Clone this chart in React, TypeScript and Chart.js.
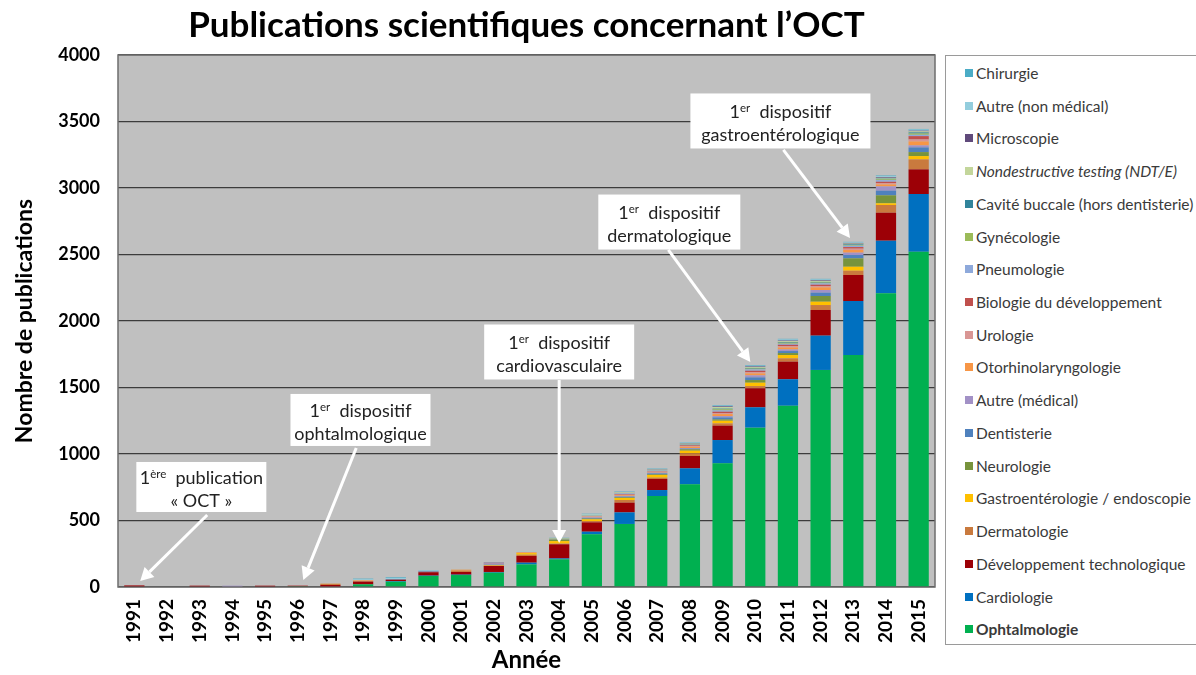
import React, { useEffect, useRef } from "react";
import { Chart, registerables } from "chart.js";
Chart.register(...registerables);

const chartTitle = "Publications scientifiques concernant l\u2019OCT";
const yAxisTitle = "Nombre de publications";
const xAxisTitle = "Année";

const years = [
  "1991", "1992", "1993", "1994", "1995", "1996", "1997", "1998", "1999", "2000",
  "2001", "2002", "2003", "2004", "2005", "2006", "2007", "2008", "2009", "2010",
  "2011", "2012", "2013", "2014", "2015",
];

// Series values, stacking order bottom -> top
const ophtalmologie = [0, 0, 0, 0, 0, 6, 5, 20, 40, 83, 90, 108, 170, 208, 396, 474, 684, 772, 930, 1198, 1363, 1632, 1744, 2208, 2520];
const cardiologie = [0, 0, 0, 0, 0, 0, 0, 0, 5, 3, 3, 5, 13, 7, 20, 87, 45, 120, 175, 153, 199, 258, 406, 396, 435];
const developpementTechno = [12, 0, 10, 0, 10, 4, 10, 20, 10, 25, 20, 45, 50, 106, 70, 73, 83, 93, 108, 143, 132, 193, 196, 210, 185];
const dermatologie = [0, 0, 0, 0, 0, 0, 8, 5, 0, 0, 10, 3, 10, 5, 10, 20, 10, 20, 17, 17, 25, 37, 32, 58, 75];
const gastroenterologie = [0, 0, 0, 0, 0, 0, 0, 0, 0, 0, 0, 5, 12, 19, 13, 15, 20, 20, 20, 25, 25, 25, 30, 13, 25];
const neurologie = [0, 0, 0, 0, 0, 0, 0, 0, 0, 0, 0, 0, 0, 12, 5, 5, 5, 10, 10, 20, 15, 43, 63, 60, 30];
const dentisterie = [0, 0, 0, 0, 0, 0, 0, 0, 3, 5, 0, 3, 0, 0, 5, 5, 7, 5, 15, 20, 15, 25, 25, 35, 35];
const autreMedical = [0, 0, 0, 10, 0, 0, 0, 0, 0, 0, 0, 8, 0, 2, 5, 5, 6, 5, 10, 15, 12, 20, 18, 32, 15];
const otorhino = [0, 0, 0, 0, 0, 0, 3, 5, 0, 0, 8, 0, 5, 0, 5, 5, 5, 10, 15, 15, 15, 20, 20, 15, 30];
const urologie = [0, 0, 0, 0, 0, 0, 0, 0, 0, 0, 0, 0, 3, 0, 3, 5, 3, 5, 8, 10, 10, 10, 10, 10, 15];
const biologieDev = [0, 0, 0, 0, 0, 0, 0, 0, 0, 3, 0, 3, 0, 0, 0, 5, 3, 5, 10, 10, 10, 10, 12, 10, 25];
const pneumologie = [0, 0, 0, 0, 0, 0, 0, 0, 0, 0, 0, 0, 0, 3, 5, 5, 5, 5, 10, 10, 8, 10, 10, 12, 10];
const gynecologie = [0, 0, 0, 0, 0, 0, 0, 0, 0, 0, 0, 0, 0, 3, 3, 3, 3, 3, 8, 6, 8, 6, 5, 6, 10];
const caviteBuccale = [0, 0, 0, 0, 0, 0, 0, 0, 0, 0, 0, 0, 0, 0, 0, 0, 0, 3, 5, 5, 5, 5, 5, 5, 8];
const ndt = [0, 0, 0, 0, 0, 0, 0, 0, 0, 0, 0, 0, 0, 2, 3, 5, 3, 3, 12, 6, 6, 8, 6, 6, 8];
const microscopie = [0, 0, 0, 0, 0, 0, 0, 0, 0, 0, 0, 3, 0, 0, 0, 3, 3, 3, 5, 5, 5, 5, 5, 5, 5];
const autreNonMedical = [0, 0, 0, 0, 0, 0, 3, 8, 10, 5, 3, 0, 3, 0, 5, 3, 3, 3, 5, 5, 8, 5, 5, 8, 8];
const chirurgie = [0, 0, 0, 0, 0, 0, 0, 5, 5, 3, 0, 0, 0, 3, 3, 3, 3, 3, 5, 5, 5, 5, 3, 5, 5];

const seriesNames = [
  "Ophtalmologie", "Cardiologie", "Développement technologique", "Dermatologie",
  "Gastroentérologie / endoscopie", "Neurologie", "Dentisterie", "Autre (médical)",
  "Otorhinolaryngologie", "Urologie", "Biologie du développement", "Pneumologie",
  "Gynécologie", "Cavité buccale (hors dentisterie)", "Nondestructive testing (NDT/E)",
  "Microscopie", "Autre (non médical)", "Chirurgie",
];
const seriesValues = [
  ophtalmologie, cardiologie, developpementTechno, dermatologie, gastroenterologie,
  neurologie, dentisterie, autreMedical, otorhino, urologie, biologieDev, pneumologie,
  gynecologie, caviteBuccale, ndt, microscopie, autreNonMedical, chirurgie,
];
const seriesColors = [
  "#00b050", "#0070c0", "#9c0006", "#c97a3e", "#ffc000", "#77933c", "#4f81bd", "#a291c6",
  "#f79646", "#d99694", "#c0504d", "#8ea9db", "#9bbb59", "#31849b", "#c3d69b",
  "#604a7b", "#93cddd", "#4bacc6",
];

const yTicks = [0, 500, 1000, 1500, 2000, 2500, 3000, 3500, 4000];

// Annotations: box centre, arrow start and arrow tip in data coordinates (category index, value)
const annotations = [
  { sup: "ère", rest: "  publication", line2: "« OCT »", box: [2.05, 752], w: 130, h: 50, from: [2.23, 541], to: [0.18, 45] },
  { sup: "er", rest: "  dispositif", line2: "ophtalmologique", box: [6.92, 1256], w: 140, h: 52, from: [6.79, 1045], to: [5.17, 53] },
  { sup: "er", rest: "  dispositif", line2: "cardiovasculaire", box: [13.0, 1767], w: 150, h: 55, from: [13.0, 1556], to: [13.0, 331] },
  { sup: "er", rest: "  dispositif", line2: "dermatologique", box: [16.37, 2744], w: 142, h: 55, from: [16.34, 2534], to: [18.85, 1692] },
  { sup: "er", rest: "  dispositif", line2: "gastroentérologique", box: [19.77, 3504], w: 180, h: 55, from: [19.86, 3286], to: [21.9, 2624] },
];

const FONT = "Lato, 'Open Sans', sans-serif";

const bgPlugin = {
  id: "plotBg",
  beforeDraw(chart: any) {
    const { ctx, chartArea } = chart;
    const { left, top, right, bottom } = chartArea;
    ctx.save();
    ctx.fillStyle = "#c0c0c0";
    ctx.fillRect(left, top, right - left, bottom - top);
    ctx.restore();
  },
  beforeDatasetsDraw(chart: any) {
    const { ctx, chartArea } = chart;
    const { left, top, right, bottom } = chartArea;
    ctx.save();
    ctx.strokeStyle = "#6e6e6e";
    ctx.lineWidth = 1.5;
    ctx.strokeRect(left, top, right - left, bottom - top);
    ctx.restore();
  },
  afterDraw(chart: any) {
    const { ctx, chartArea } = chart;
    ctx.save();
    ctx.fillStyle = "#000";
    ctx.font = `bold 35px ${FONT}`;
    ctx.textAlign = "center";
    ctx.textBaseline = "middle";
    ctx.fillText(chartTitle, (chartArea.left + chartArea.right) / 2, 26);
    ctx.restore();
  },
};

const annotationPlugin = {
  id: "oct-annotations",
  afterDatasetsDraw(chart: any) {
    const { ctx } = chart;
    const xs = chart.scales.x;
    const ys = chart.scales.y;
    const px = (p: number[]) => [xs.getPixelForValue(p[0]), ys.getPixelForValue(p[1])];
    ctx.save();
    for (const a of annotations) {
      const [x1, y1] = px(a.from);
      const [x2, y2] = px(a.to);
      const ang = Math.atan2(y2 - y1, x2 - x1);
      const headLen = 13;
      const headW = 7;
      const bx = x2 - headLen * Math.cos(ang);
      const by = y2 - headLen * Math.sin(ang);
      ctx.strokeStyle = "#ffffff";
      ctx.fillStyle = "#ffffff";
      ctx.lineWidth = 3;
      ctx.beginPath();
      ctx.moveTo(x1, y1);
      ctx.lineTo(bx, by);
      ctx.stroke();
      ctx.beginPath();
      ctx.moveTo(x2, y2);
      ctx.lineTo(bx + headW * Math.sin(ang), by - headW * Math.cos(ang));
      ctx.lineTo(bx - headW * Math.sin(ang), by + headW * Math.cos(ang));
      ctx.closePath();
      ctx.fill();

      const [cx, cy] = px(a.box);
      ctx.fillStyle = "#ffffff";
      ctx.fillRect(cx - a.w / 2, cy - a.h / 2, a.w, a.h);

      ctx.fillStyle = "#222";
      ctx.textBaseline = "alphabetic";
      ctx.textAlign = "left";
      const big = `18px ${FONT}`;
      const small = `11.5px ${FONT}`;
      ctx.font = big;
      const w1 = ctx.measureText("1").width;
      const wr = ctx.measureText(a.rest).width;
      ctx.font = small;
      const ws = ctx.measureText(a.sup).width;
      const total = w1 + ws + wr;
      let x = cx - total / 2;
      const base1 = cy - 3;
      ctx.font = big;
      ctx.fillText("1", x, base1);
      x += w1;
      ctx.font = small;
      ctx.fillText(a.sup, x, base1 - 6);
      x += ws;
      ctx.font = big;
      ctx.fillText(a.rest, x, base1);
      ctx.textAlign = "center";
      ctx.fillText(a.line2, cx, cy + 20);
    }
    ctx.restore();
  },
};

function Legend() {
  const items = seriesNames.map((n, i) => ({ name: n, color: seriesColors[i] })).reverse();
  return (
    <div
      style={{
        position: "absolute",
        left: 945,
        top: 55,
        width: 262,
        height: 590,
        border: "1.5px solid #9a9a9a",
        boxSizing: "border-box",
        background: "#fff",
      }}
    >
      {items.map((it, i) => (
        <div
          key={it.name}
          style={{
            position: "absolute",
            left: 19,
            top: 17 + i * 32.72 - 10,
            height: 20,
            display: "flex",
            alignItems: "center",
            whiteSpace: "nowrap",
            fontFamily: FONT,
            fontSize: 15.5,
            color: "#3a3a3a",
            fontStyle: it.name.startsWith("Nondestructive") ? "italic" : "normal",
            fontWeight: it.name === "Ophtalmologie" ? "bold" : "normal",
          }}
        >
          <span style={{ display: "inline-block", width: 8, height: 8, background: it.color, marginRight: 3 }} />
          <span>{it.name}</span>
        </div>
      ))}
    </div>
  );
}

export default function App() {
  const ref = useRef<HTMLCanvasElement>(null);
  useEffect(() => {
    const datasets = seriesNames.map((name, i) => ({
      label: name,
      data: seriesValues[i],
      backgroundColor: seriesColors[i],
      borderWidth: 0,
      categoryPercentage: 1,
      barPercentage: 0.62,
    }));
    const chart = new Chart(ref.current!, {
      type: "bar",
      data: { labels: years, datasets },
      plugins: [bgPlugin, annotationPlugin],
      options: {
        responsive: false,
        animation: false,
        layout: { padding: { left: 0, right: 261, top: 55, bottom: 0 } },
        plugins: {
          legend: { display: false },
          title: { display: false },
          tooltip: { enabled: false },
        },
        scales: {
          x: {
            stacked: true,
            grid: { display: false, drawTicks: false },
            border: { display: false },
            ticks: {
              autoSkip: false,
              minRotation: 90,
              maxRotation: 90,
              padding: 12,
              color: "#000",
              font: { family: FONT, size: 19, weight: "bold" },
            },
            title: {
              display: true,
              text: xAxisTitle,
              color: "#000",
              font: { family: FONT, size: 24, weight: "bold" },
              padding: { top: 0, bottom: 0 },
            },
            afterFit: (s: any) => {
              s.height = 88;
            },
          },
          y: {
            stacked: true,
            min: 0,
            max: 4000,
            afterBuildTicks: (s: any) => {
              s.ticks = yTicks.map((v) => ({ value: v }));
            },
            grid: { color: "#3c3c3c", lineWidth: 1.3, drawTicks: false },
            border: { display: false },
            ticks: {
              padding: 18,
              color: "#000",
              font: { family: FONT, size: 18, weight: "bold" },
              callback: (v: any) => String(v),
            },
            title: {
              display: true,
              text: yAxisTitle,
              color: "#000",
              font: { family: FONT, size: 23, weight: "bold" },
              padding: { top: 11, bottom: 0 },
            },
            afterFit: (s: any) => {
              s.width = 118;
            },
          },
        },
      },
    } as any);
    return () => chart.destroy();
  }, []);
  return (
    <div
      style={{
        position: "absolute",
        left: 0,
        top: 0,
        width: 1196,
        height: 675,
        background: "#fff",
        overflow: "hidden",
      }}
    >
      <canvas ref={ref} width={1196} height={675} style={{ position: "absolute", left: 0, top: 0 }} />
      <Legend />
    </div>
  );
}
